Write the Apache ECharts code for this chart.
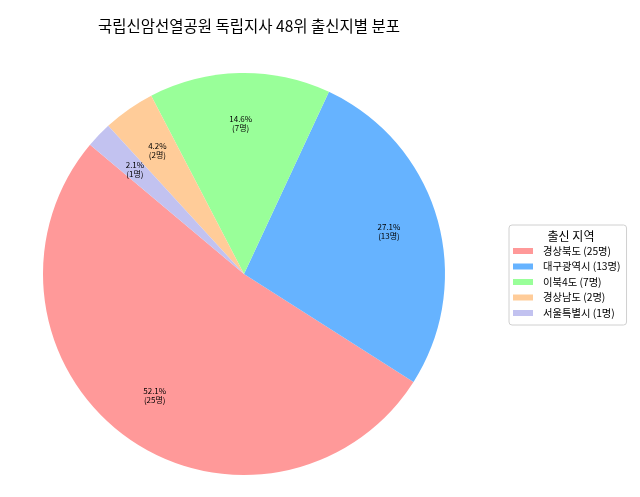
<!DOCTYPE html>
<html>
<head>
<meta charset="utf-8">
<script src="https://cdn.jsdelivr.net/npm/echarts@6/dist/echarts.min.js"></script>
<style>
    html, body { margin: 0; padding: 0; background: #fff; }
    #chart { width: 640px; height: 497px; }
</style>
</head>
<body>
<div id="chart"></div>
<script>
// 출신 지역별 인원
var regions = ['경상북도', '대구광역시', '이북4도', '경상남도', '서울특별시'];
var counts = [25, 13, 7, 2, 1];
var colors = ['#ff9999', '#66b3ff', '#99ff99', '#ffcc99', '#c2c2f0'];

var total = counts.reduce(function (a, b) { return a + b; }, 0);
var font = '"Noto Sans CJK KR", "Noto Sans", sans-serif';

var pieData = regions.map(function (r, i) {
    return {
        name: r + ' (' + counts[i] + '명)',
        value: counts[i],
        itemStyle: {color: colors[i]}
    };
});

var myChart = echarts.init(document.getElementById('chart'));
myChart.setOption({
    animation: false,
    title: [{
        text: '국립신암선열공원 독립지사 48위 출신지별 분포',
        left: 244,
        top: 13,
        textAlign: 'center',
        textStyle: {fontFamily: font, fontSize: 15.5, fontWeight: 'normal', color: '#000'}
    }, {
        text: '출신 지역',
        left: 566,
        top: 225,
        textAlign: 'center',
        textStyle: {fontFamily: font, fontSize: 12, fontWeight: 'normal', color: '#000'}
    }],
    legend: {
        orient: 'vertical',
        left: 509,
        top: 225,
        width: 116,
        padding: [20, 6, 6, 4],
        borderColor: '#d0d0d0',
        borderWidth: 1,
        borderRadius: 3,
        icon: 'rect',
        itemWidth: 20,
        itemHeight: 6,
        itemGap: 3.5,
        selectedMode: false,
        textStyle: {fontFamily: font, fontSize: 10.3, lineHeight: 12, color: '#000', padding: [0, 0, 0, 5]},
        data: pieData.map(function (d) { return d.name; })
    },
    series: [
        {
            type: 'pie',
            center: [244, 274],
            radius: 201,
            startAngle: 140,
            clockwise: false,
            silent: true,
            label: {show: false},
            labelLine: {show: false},
            data: pieData
        },
        {
            // 비율 라벨 전용 (투명)
            type: 'pie',
            center: [244, 274],
            radius: 296,
            startAngle: 140,
            clockwise: false,
            silent: true,
            itemStyle: {color: 'rgba(0,0,0,0)'},
            labelLine: {show: false},
            label: {
                show: true,
                position: 'inside',
                fontFamily: font,
                fontSize: 8,
                lineHeight: 9,
                color: '#000',
                formatter: function (p) {
                    return (p.value / total * 100).toFixed(1) + '%\n(' + p.value + '명)';
                }
            },
            data: counts.map(function (c, i) {
                return {name: regions[i] + ' (' + c + '명)', value: c, itemStyle: {color: 'rgba(0,0,0,0)'}};
            })
        }
    ]
});
</script>
</body>
</html>
